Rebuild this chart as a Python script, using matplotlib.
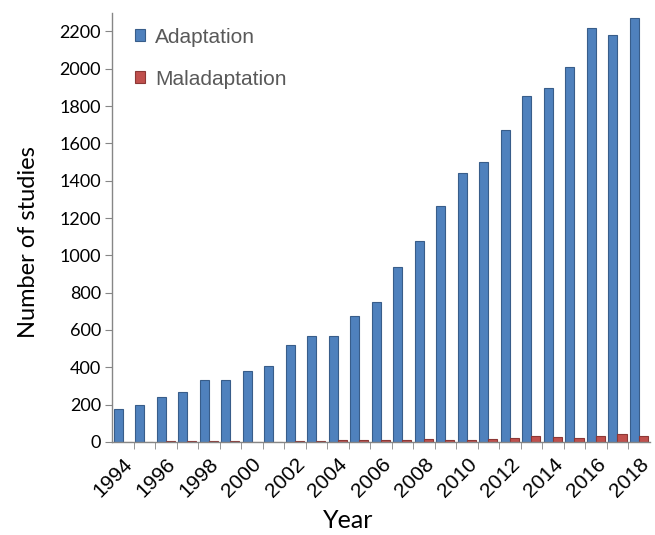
import numpy as np
import matplotlib.pyplot as plt
from matplotlib.ticker import FixedLocator

# --- DATA ---
years = list(range(1994, 2019))
adaptation = [175, 200, 240, 265, 330, 330, 378, 405, 518, 570, 570, 675, 748,
              940, 1078, 1265, 1440, 1500, 1670, 1855, 1898, 2012, 2220, 2180, 2270]
maladaptation = [2, 2, 4, 4, 4, 4, 2, 2, 6, 4, 11, 11, 11, 11, 13, 10, 10, 18,
                 20, 30, 27, 20, 32, 42, 30]

label_font = ['Lato', 'DejaVu Sans']
arial = ['Liberation Sans', 'DejaVu Sans']

fig = plt.figure(figsize=(6.55, 5.35), dpi=100)
ax = fig.add_axes([0.171, 0.174, 0.821, 0.802])

x = np.arange(len(years))
w = 0.42
ax.bar(x - 0.21, adaptation, w, color='#4F81BD', edgecolor='#385D8A',
       linewidth=0.8, label='Adaptation')
ax.bar(x + 0.21, maladaptation, w, color='#C0504D', edgecolor='#8C3836',
       linewidth=0.8, label='Maladaptation')

ax.set_xlim(-0.5, len(years) - 0.5)
ax.set_ylim(0, 2300)
ax.set_yticks(range(0, 2201, 200))

# labels on every other year, tick marks between groups
ax.set_xticks(x[::2])
ax.set_xticklabels([str(y) for y in years[::2]], rotation=45, ha='right',
                   rotation_mode='anchor')
ax.tick_params(axis='x', which='major', length=0, pad=9)
ax.xaxis.set_minor_locator(FixedLocator(x[:-1] + 0.5))
ax.tick_params(axis='x', which='minor', length=5, color='#868686', direction='out')
ax.tick_params(axis='y', length=5, color='#868686', direction='out', pad=3)
for lab in ax.get_xticklabels():
    lab.set_fontfamily(arial)
    lab.set_fontsize(15)
for lab in ax.get_yticklabels():
    lab.set_fontfamily(label_font)
    lab.set_fontsize(13)

for s in ['top', 'right']:
    ax.spines[s].set_visible(False)
for s in ['left', 'bottom']:
    ax.spines[s].set_color('#868686')
    ax.spines[s].set_linewidth(1.0)

ax.set_ylabel('Number of studies', family=label_font, fontsize=17)
ax.yaxis.set_label_coords(-0.136, 0.466)
ax.set_xlabel('Year', family=label_font, fontsize=18)
ax.xaxis.set_label_coords(0.439, -0.157)

leg = ax.legend(loc='upper left', bbox_to_anchor=(0.008, 1.009), frameon=False,
                prop={'family': arial, 'size': 15},
                handlelength=0.5, handleheight=0.5, labelspacing=1.1,
                handletextpad=0.45, labelcolor='#595959')

fig.savefig('out.png', dpi=100)
